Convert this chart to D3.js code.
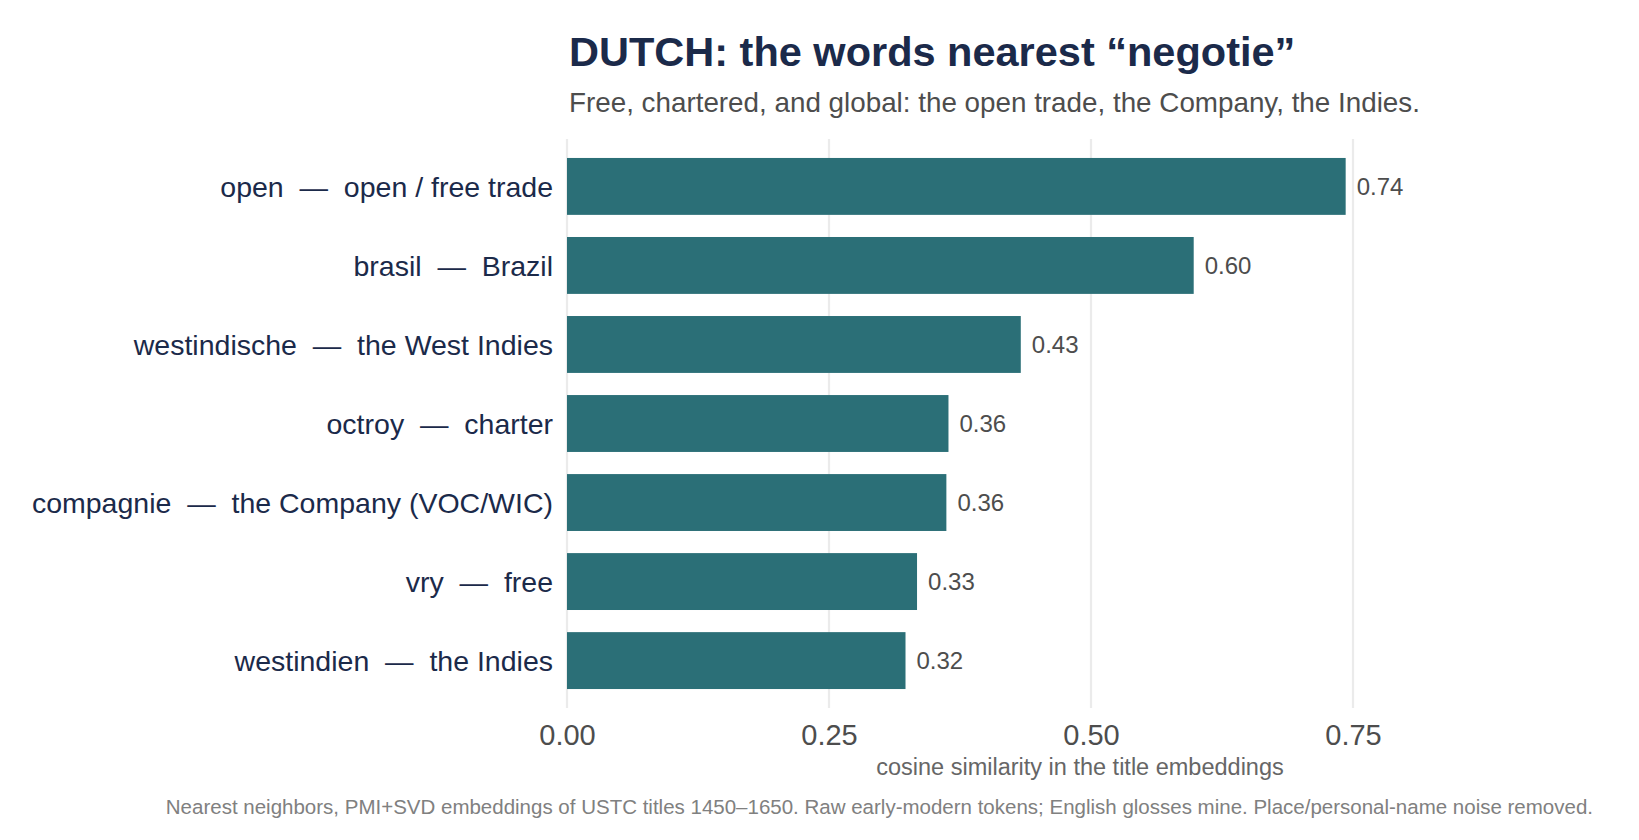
<!DOCTYPE html>
<html>
<head>
<meta charset="utf-8">
<script src="https://cdn.jsdelivr.net/npm/d3@7"></script>
<style>
  body { margin: 0; background: #fff; }
  svg { display: block; font-family: "Liberation Sans", Arial, sans-serif; }
  text { white-space: pre; }
</style>
</head>
<body>
<svg id="chart"></svg>
<script>
const words = ["open", "brasil", "westindische", "octroy", "compagnie", "vry", "westindien"];
const glosses = ["open / free trade", "Brazil", "the West Indies", "charter", "the Company (VOC/WIC)", "free", "the Indies"];
const similarity = [0.743, 0.598, 0.433, 0.364, 0.362, 0.334, 0.323];
const tickValues = [0, 0.25, 0.5, 0.75];

const title = "DUTCH: the words nearest \u201cnegotie\u201d";
const subtitle = "Free, chartered, and global: the open trade, the Company, the Indies.";
const xTitle = "cosine similarity in the title embeddings";
const caption = "Nearest neighbors, PMI+SVD embeddings of USTC titles 1450\u20131650. Raw early-modern tokens; English glosses mine. Place/personal-name noise removed.";

const width = 1639;
const height = 840;

const data = words.map((w, i) => ({
    label: `${w}\u00a0\u00a0\u2014\u00a0\u00a0${glosses[i]}`,
    value: similarity[i],
}));

const x = d3.scaleLinear()
    .domain([0, 0.8])
    .range([567, 567 + 0.8 * 1048]);

const y = d3.scaleBand()
    .domain(data.map(d => d.label))
    .range([139, 708])
    .paddingInner(0.28)
    .paddingOuter(0.24);

const svg = d3.select("#chart")
    .attr("width", width)
    .attr("height", height)
    .attr("viewBox", [0, 0, width, height]);

// vertical grid
svg.append("g")
    .selectAll("line")
    .data(tickValues)
    .join("line")
    .attr("x1", d => x(d))
    .attr("x2", d => x(d))
    .attr("y1", 139)
    .attr("y2", 708)
    .attr("stroke", "#ebebeb")
    .attr("stroke-width", 2.2);

// bars
svg.append("g")
    .selectAll("rect")
    .data(data)
    .join("rect")
    .attr("x", x(0))
    .attr("y", d => y(d.label))
    .attr("width", d => x(d.value) - x(0))
    .attr("height", y.bandwidth())
    .attr("fill", "#2b6f77");

// value labels
svg.append("g")
    .selectAll("text")
    .data(data)
    .join("text")
    .attr("x", d => x(d.value) + 11)
    .attr("y", d => y(d.label) + y.bandwidth() / 2)
    .attr("dy", "0.36em")
    .attr("font-size", 24)
    .attr("fill", "#4d4d4d")
    .text(d => d3.format(".2f")(d.value));

// y axis labels
const yAxis = svg.append("g")
    .attr("transform", `translate(${x(0)},0)`)
    .call(d3.axisLeft(y).tickSize(0).tickPadding(14));
yAxis.select(".domain").remove();
yAxis.selectAll("text")
    .attr("font-size", 28.5)
    .attr("font-family", "Liberation Sans, Arial, sans-serif")
    .attr("fill", "#1b2a4a")
    .attr("dy", "0.38em");

// x axis labels
const xAxis = svg.append("g")
    .attr("transform", `translate(0,708)`)
    .call(d3.axisBottom(x).tickValues(tickValues).tickFormat(d3.format(".2f")).tickSize(0).tickPadding(16));
xAxis.select(".domain").remove();
xAxis.selectAll("text")
    .attr("font-size", 29)
    .attr("font-family", "Liberation Sans, Arial, sans-serif")
    .attr("fill", "#4d4d4d")
    .attr("dy", "0.71em");

svg.append("text")
    .attr("x", 1080)
    .attr("y", 775)
    .attr("text-anchor", "middle")
    .attr("font-size", 23.5)
    .attr("fill", "#666666")
    .text(xTitle);

svg.append("text")
    .attr("x", 569)
    .attr("y", 66)
    .attr("font-size", 41.5)
    .attr("font-weight", "bold")
    .attr("fill", "#1b2a4a")
    .text(title);

svg.append("text")
    .attr("x", 569)
    .attr("y", 112)
    .attr("font-size", 27.8)
    .attr("fill", "#4d4d4d")
    .text(subtitle);

svg.append("text")
    .attr("x", 1593)
    .attr("y", 814)
    .attr("text-anchor", "end")
    .attr("font-size", 20.5)
    .attr("fill", "#808080")
    .text(caption);
</script>
</body>
</html>
